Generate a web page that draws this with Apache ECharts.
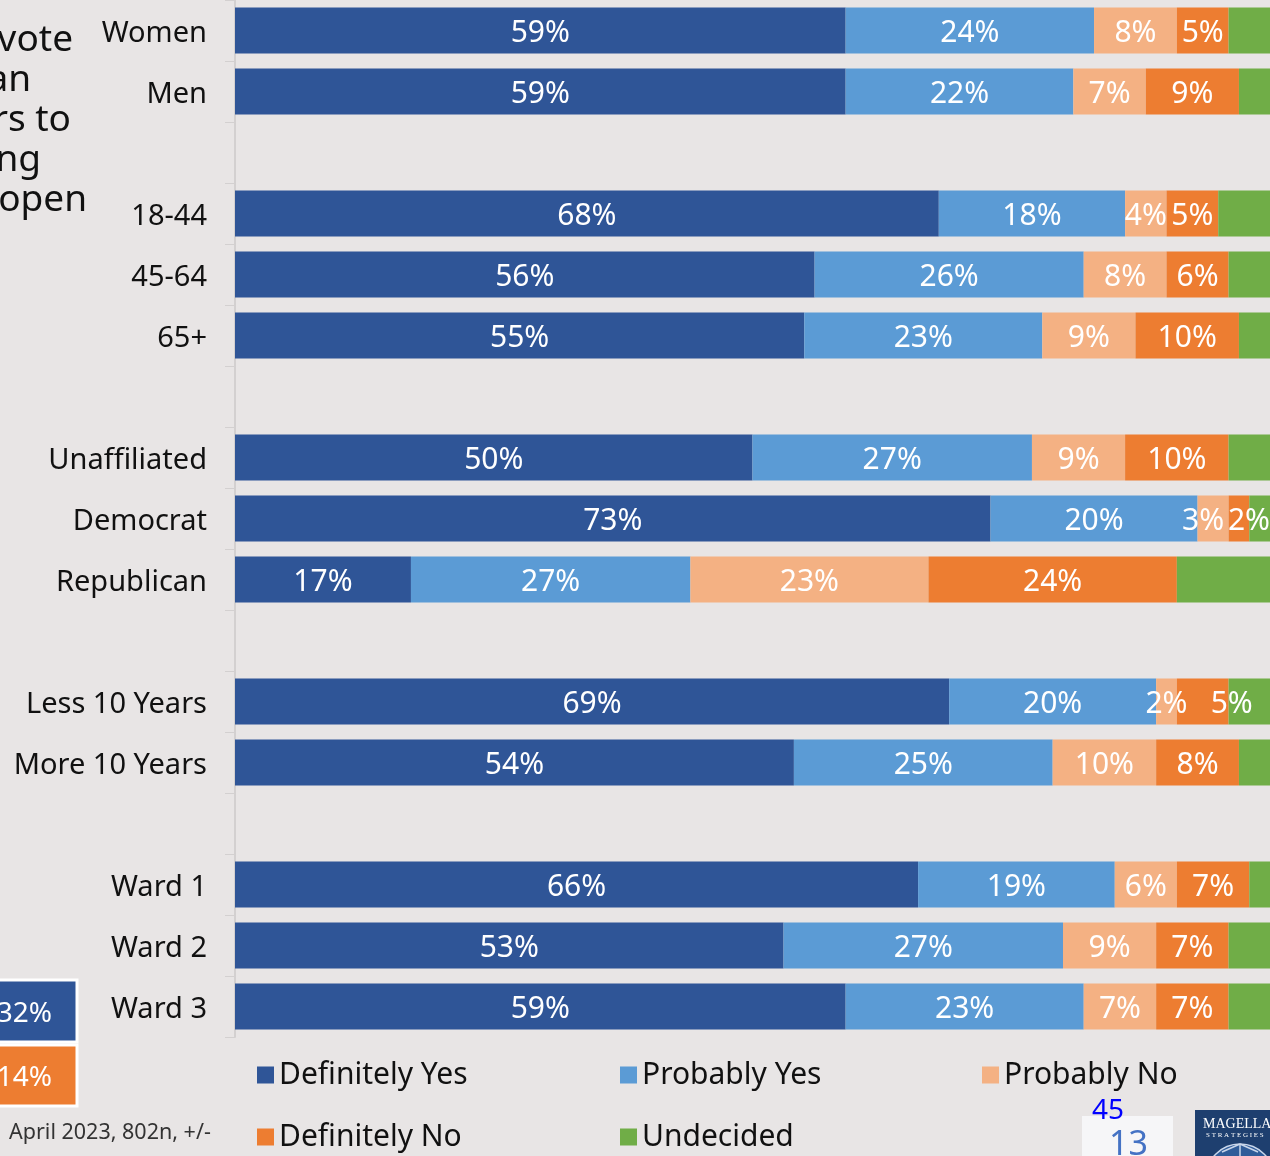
<!DOCTYPE html>
<html>
<head>
<meta charset="utf-8">
<script src="https://cdn.jsdelivr.net/npm/echarts@6/dist/echarts.min.js"></script>
<style>
  html, body { margin: 0; padding: 0; background: #e8e5e5; }
  #chart { width: 1270px; height: 1156px; }
</style>
</head>
<body>
<div id="chart"></div>
<script>
// rows, blank strings are the spacer rows between groups
var categories = ['Women', 'Men', ' ', '18-44', '45-64', '65+', '  ', 'Unaffiliated', 'Democrat', 'Republican',
  '   ', 'Less 10 Years', 'More 10 Years', '    ', 'Ward 1', 'Ward 2', 'Ward 3'];

var definitelyYes = [59, 59, null, 68, 56, 55, null, 50, 73, 17, null, 69, 54, null, 66, 53, 59];
var probablyYes   = [24, 22, null, 18, 26, 23, null, 27, 20, 27, null, 20, 25, null, 19, 27, 23];
var probablyNo    = [8, 7, null, 4, 8, 9, null, 9, 3, 23, null, 2, 10, null, 6, 9, 7];
var definitelyNo  = [5, 9, null, 5, 6, 10, null, 10, 2, 24, null, 5, 8, null, 7, 7, 7];
var undecided     = [4, 3, null, 5, 4, 3, null, 4, 2, 9, null, 4, 3, null, 2, 4, 4];

var seriesNames = ['Definitely Yes', 'Probably Yes', 'Probably No', 'Definitely No', 'Undecided'];
var colors = ['#2f5597', '#5b9bd5', '#f4b183', '#ed7d31', '#70ad47'];

var font = 'Noto Sans';
var chart = echarts.init(document.getElementById('chart'));

// a few narrow segments where the slide nudged the label sideways (seriesIndex-dataIndex: px)
var labelNudge = { '2-8': -10, '3-8': 10, '3-11': 29 };

function barSeries(name, data, showLabel) {
  return {
    name: name,
    type: 'bar',
    stack: 'total',
    barWidth: 46,
    data: data,
    label: {
      show: showLabel,
      position: 'inside',
      formatter: '{c}%',
      color: '#fff',
      fontSize: 30,
      fontFamily: font
    },
    labelLayout: function (p) {
      return { dx: labelNudge[p.seriesIndex + '-' + p.dataIndex] || 0, dy: 3 };
    }
  };
}

function legendItem(name, left, top) {
  return {
    data: [name],
    left: left,
    top: top,
    itemWidth: 17,
    itemHeight: 17,
    icon: 'rect',
    selectedMode: false,
    textStyle: { fontSize: 30, color: '#111', fontFamily: font }
  };
}

function titleText(text, x, y) {
  return { type: 'text', style: { text: text, x: x, y: y, align: 'right', verticalAlign: 'middle', fontSize: 37, fill: '#111', fontFamily: font } };
}

var option = {
  backgroundColor: '#e8e5e5',
  color: colors,
  animation: false,
  grid: { left: 235, right: 0, top: 0, height: 1037 },
  legend: [
    legendItem(seriesNames[0], 252, 1055),
    legendItem(seriesNames[1], 615, 1055),
    legendItem(seriesNames[2], 977, 1055),
    legendItem(seriesNames[3], 252, 1117),
    legendItem(seriesNames[4], 615, 1117)
  ],
  xAxis: {
    type: 'value',
    min: 0,
    max: 100,
    show: false
  },
  yAxis: {
    type: 'category',
    inverse: true,
    data: categories,
    axisLine: { show: true, lineStyle: { color: '#d3d0d0', width: 2 } },
    axisTick: { show: true, length: 10, lineStyle: { color: '#d3d0d0' } },
    axisLabel: {
      margin: 28,
      formatter: function (v) { return '{l|' + v + '}'; },
      rich: { l: { fontSize: 29, color: '#111', fontFamily: font, padding: [6, 0, 0, 0] } }
    }
  },
  series: [
    barSeries(seriesNames[0], definitelyYes, true),
    barSeries(seriesNames[1], probablyYes, true),
    barSeries(seriesNames[2], probablyNo, true),
    barSeries(seriesNames[3], definitelyNo, true),
    barSeries(seriesNames[4], undecided, false)
  ],
  graphic: [
    // title, cut off at the left edge of the slide
    titleText('vote', 73, 40),
    titleText('an', 31, 80),
    titleText('rs to', 71, 120),
    titleText('ng', 41, 160),
    titleText('open', 87, 200),
    // overall boxes
    { type: 'rect', shape: { x: -10, y: 980, width: 87, height: 62 }, style: { fill: '#2f5597', stroke: '#fff', lineWidth: 3 } },
    { type: 'text', style: { text: '32%', x: 52, y: 1014, align: 'right', verticalAlign: 'middle', fontSize: 28, fill: '#fff', fontFamily: font } },
    { type: 'rect', shape: { x: -10, y: 1045, width: 87, height: 61 }, style: { fill: '#ed7d31', stroke: '#fff', lineWidth: 3 } },
    { type: 'text', style: { text: '14%', x: 52, y: 1078, align: 'right', verticalAlign: 'middle', fontSize: 28, fill: '#fff', fontFamily: font } },
    { type: 'text', style: { text: 'April 2023, 802n, +/-', x: 9, y: 1133, verticalAlign: 'middle', fontSize: 21.5, fill: '#333', fontFamily: font } },
    // page number
    { type: 'rect', shape: { x: 1082, y: 1116, width: 91, height: 40 }, style: { fill: '#f6f6f8' } },
    { type: 'text', style: { text: '45', x: 1092, y: 1111, verticalAlign: 'middle', fontSize: 28, fill: '#0000ff', fontFamily: font } },
    { type: 'text', style: { text: '13', x: 1109, y: 1145, verticalAlign: 'middle', fontSize: 34, fill: '#4472c4', fontFamily: font } },
    // logo
    { type: 'rect', shape: { x: 1195, y: 1110, width: 80, height: 50 }, style: { fill: '#1e3f6f' } },
    { type: 'text', style: { text: 'MAGELLAN', x: 1203, y: 1124, verticalAlign: 'middle', fontSize: 14, fill: '#fff', fontFamily: 'Liberation Serif' } },
    { type: 'text', style: { text: 'S T R A T E G I E S', x: 1206, y: 1135, verticalAlign: 'middle', fontSize: 7, fill: '#fff', fontFamily: 'Liberation Serif' } },
    { type: 'circle', shape: { cx: 1240, cy: 1178, r: 34 }, style: { fill: '#2f5c99', stroke: '#c9d6ea', lineWidth: 1.5 } },
    { type: 'line', shape: { x1: 1240, y1: 1144, x2: 1240, y2: 1160 }, style: { stroke: '#c9d6ea', lineWidth: 1.5 } },
    { type: 'line', shape: { x1: 1212, y1: 1158, x2: 1268, y2: 1158 }, style: { stroke: '#c9d6ea', lineWidth: 1.5 } },
    { type: 'line', shape: { x1: 1222, y1: 1152, x2: 1240, y2: 1144 }, style: { stroke: '#c9d6ea', lineWidth: 1.5 } },
    { type: 'line', shape: { x1: 1258, y1: 1152, x2: 1240, y2: 1144 }, style: { stroke: '#c9d6ea', lineWidth: 1.5 } }
  ]
};

chart.setOption(option);
window.addEventListener('resize', function () {
  chart.resize();
});
</script>
</body>
</html>
